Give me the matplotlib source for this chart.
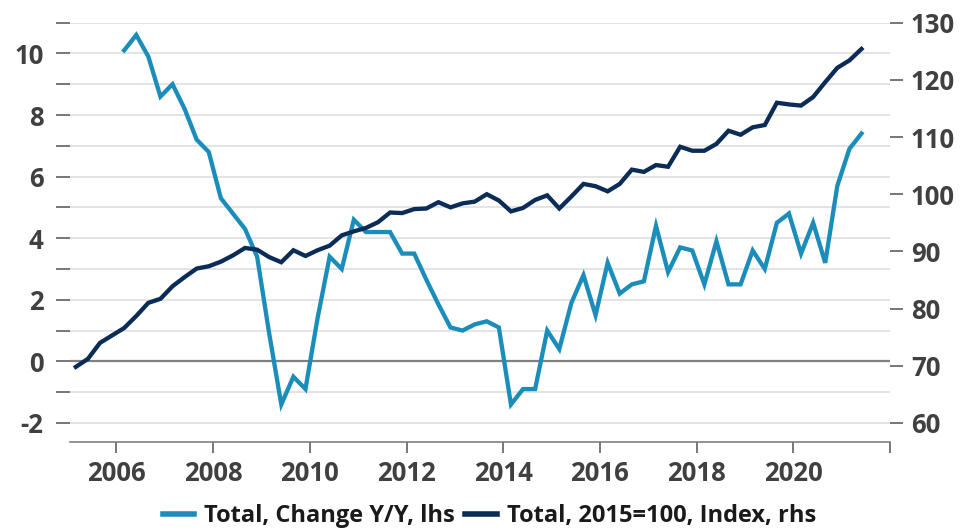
import matplotlib.pyplot as plt
from matplotlib.lines import Line2D

plt.rcParams['font.family'] = ['Open Sans', 'DejaVu Sans']

# quarterly index, 2015=100 (Q1 2005 .. Q2 2021)
index_values = [
    69.8, 71.2, 74.0, 75.3,
    76.6, 78.7, 81.0, 81.7,
    83.9, 85.5, 87.0, 87.4,
    88.2, 89.3, 90.6, 90.3,
    89.0, 88.1, 90.2, 89.2,
    90.2, 91.0, 92.8, 93.5,
    94.1, 95.1, 96.8, 96.7,
    97.4, 97.5, 98.6, 97.7,
    98.4, 98.7, 100.0, 98.9,
    97.0, 97.6, 99.0, 99.8,
    97.5, 99.6, 101.8, 101.4,
    100.5, 101.8, 104.3, 103.9,
    105.1, 104.8, 108.3, 107.6,
    107.6, 108.8, 111.1, 110.4,
    111.7, 112.1, 116.0, 115.7,
    115.5, 117.0, 119.6, 122.1,
    123.4, 125.4,
]

# year-over-year change in % (Q1 2006 .. Q2 2021)
yoy_values = [
    10.1, 10.6, 9.9, 8.6,
    9.0, 8.2, 7.2, 6.8,
    5.3, 4.8, 4.3, 3.4,
    0.9, -1.4, -0.5, -0.9,
    1.4, 3.4, 3.0, 4.6,
    4.2, 4.2, 4.2, 3.5,
    3.5, 2.65, 1.85, 1.1,
    1.0, 1.2, 1.3, 1.1,
    -1.4, -0.9, -0.9, 1.0,
    0.4, 1.9, 2.8, 1.5,
    3.2, 2.2, 2.5, 2.6,
    4.4, 2.9, 3.7, 3.6,
    2.5, 3.9, 2.5, 2.5,
    3.6, 3.0, 4.5, 4.8,
    3.5, 4.5, 3.2, 5.7,
    6.9, 7.4,
]

index_start = 2005
yoy_start = 2006
index_x = [index_start + 0.16 + 0.25 * i for i in range(len(index_values))]
yoy_x = [yoy_start + 0.16 + 0.25 * i for i in range(len(yoy_values))]

year_ticks = list(range(2006, 2023, 2))
year_labels = [str(y) if y < 2022 else "" for y in year_ticks]
lhs_ticks = list(range(-2, 12))
lhs_labels = [str(v) if v % 2 == 0 else "" for v in lhs_ticks]
rhs_ticks = list(range(60, 131, 10))

light_blue = "#1b8dbb"
navy = "#0b2c57"
text_grey = "#404040"

fig = plt.figure(figsize=(9.63, 5.31), dpi=100)
ax = fig.add_axes([0.0727, 0.1676, 0.8515, 0.7897])
ax2 = ax.twinx()

ax.set_xlim(2005.04, 2022.0)
ax.set_ylim(-2.62, 11.0)
ax2.set_ylim(130 - 13.62 * 70 / 13, 130)

for v in lhs_ticks:
    if v == 0:
        ax.axhline(v, color="#808080", lw=1.6, zorder=1)
    else:
        ax.axhline(v, color="#dcdcdc", lw=1.1, zorder=0)

ax.plot(yoy_x, yoy_values, color=light_blue, lw=3.1, solid_joinstyle="miter", zorder=3)
ax2.plot(index_x, index_values, color=navy, lw=3.1, solid_joinstyle="miter", zorder=3)

for a in (ax, ax2):
    for s in ("top", "left", "right"):
        a.spines[s].set_visible(False)
ax2.spines["bottom"].set_visible(False)
ax.spines["bottom"].set_color("#808080")
ax.spines["bottom"].set_linewidth(1.2)

ax.set_xticks(year_ticks)
ax.set_xticklabels(year_labels)
ax.set_yticks(lhs_ticks)
ax.set_yticklabels(lhs_labels)
ax2.set_yticks(rhs_ticks)

ax.tick_params(axis="x", direction="out", length=8, width=1.2, color="#606060",
               pad=5, labelsize=18.5, labelcolor=text_grey)
ax.tick_params(axis="y", direction="out", length=10, width=1.2, color="#606060",
               pad=9, labelsize=18.5, labelcolor=text_grey)
ax2.tick_params(axis="y", direction="out", length=9, width=1.2, color="#606060",
                pad=6, labelsize=18.5, labelcolor=text_grey)
for lab in ax.get_xticklabels() + ax.get_yticklabels() + ax2.get_yticklabels():
    lab.set_fontweight("bold")

handles = [
    Line2D([], [], color=light_blue, lw=4),
    Line2D([], [], color=navy, lw=4),
]
labels = ["Total, Change Y/Y, lhs", "Total, 2015=100, Index, rhs"]
fig.legend(handles, labels, loc="center", bbox_to_anchor=(0.508, 0.028), ncol=2,
           frameon=False, handlelength=1.35, handletextpad=0.4, columnspacing=0.45,
           prop={"size": 17, "weight": "bold"}, labelcolor="#1a1a1a")

fig.savefig("out.png", dpi=100)
